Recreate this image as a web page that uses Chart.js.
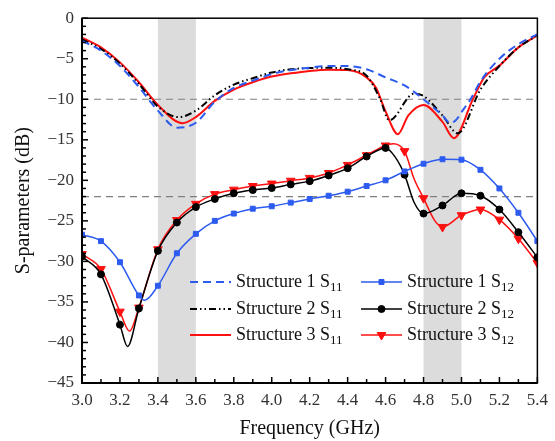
<!DOCTYPE html>
<html>
<head>
<meta charset="utf-8">
<script src="https://cdn.jsdelivr.net/npm/chart.js@4.4.1/dist/chart.umd.min.js"></script>
<style>
  html, body { margin: 0; padding: 0; background: #fff; }
</style>
</head>
<body>
<canvas id="chart" width="555" height="441"></canvas>
<script>
// S11 curves
const freqS11_1 = [3.0, 3.1, 3.2, 3.3, 3.4, 3.5, 3.6, 3.7, 3.8, 3.9, 4.0, 4.1, 4.2, 4.3, 4.4, 4.5, 4.6, 4.7, 4.8, 4.9, 4.94, 4.97, 5.0, 5.05, 5.1, 5.2, 5.3, 5.4];
const s11_1 = [-2.8, -4.0, -5.9, -8.5, -11.4, -13.5, -12.9, -10.3, -8.6, -7.7, -6.9, -6.4, -6.1, -5.9, -5.9, -6.3, -7.3, -8.3, -10.0, -12.0, -12.9, -12.6, -11.6, -9.9, -7.8, -5.0, -3.2, -2.0];

const freqS11_2 = [3.0, 3.1, 3.2, 3.3, 3.4, 3.51, 3.6, 3.7, 3.8, 3.9, 4.0, 4.1, 4.2, 4.3, 4.4, 4.5, 4.57, 4.62, 4.75, 4.8, 4.9, 4.98, 5.1, 5.2, 5.3, 5.4];
const s11_2 = [-2.6, -3.8, -5.6, -8.1, -10.9, -12.2, -11.4, -9.5, -8.2, -7.4, -6.7, -6.3, -6.15, -6.1, -6.3, -7.1, -9.9, -12.6, -9.3, -9.6, -12.0, -14.2, -8.8, -5.9, -3.6, -2.1];

const freqS11_3 = [3.0, 3.1, 3.2, 3.3, 3.4, 3.53, 3.6, 3.7, 3.8, 3.9, 4.0, 4.1, 4.2, 4.3, 4.4, 4.5, 4.55, 4.6, 4.665, 4.72, 4.8, 4.9, 4.96, 5.06, 5.12, 5.2, 5.3, 5.4];
const s11_3 = [-2.4, -3.6, -5.45, -7.9, -10.7, -12.95, -12.2, -10.2, -8.8, -7.9, -7.2, -6.8, -6.5, -6.35, -6.4, -7.3, -8.6, -11.5, -14.3, -12.0, -10.7, -12.8, -14.8, -10.0, -7.3, -5.85, -3.6, -2.1];

// S12 curves, markers sit on the 0.1 GHz points
const freqS12_1 = [3.0, 3.1, 3.2, 3.3, 3.33, 3.4, 3.5, 3.6, 3.7, 3.8, 3.9, 4.0, 4.1, 4.2, 4.3, 4.4, 4.5, 4.6, 4.7, 4.8, 4.9, 5.0, 5.1, 5.2, 5.3, 5.4];
const s12_1 = [-26.7, -27.5, -30.1, -34.2, -34.8, -33.0, -29.0, -26.6, -25.0, -24.1, -23.5, -23.2, -22.75, -22.3, -21.9, -21.4, -20.7, -20.0, -18.9, -17.95, -17.4, -17.45, -18.7, -21.0, -24.0, -27.5];

const freqS12_2 = [3.0, 3.1, 3.2, 3.24, 3.3, 3.4, 3.5, 3.6, 3.7, 3.8, 3.9, 4.0, 4.1, 4.2, 4.3, 4.4, 4.5, 4.6, 4.65, 4.7, 4.75, 4.8, 4.9, 5.0, 5.1, 5.2, 5.3, 5.4];
const s12_2 = [-29.4, -31.6, -37.8, -40.5, -35.8, -28.7, -25.2, -23.3, -22.3, -21.6, -21.2, -20.95, -20.5, -20.1, -19.4, -18.5, -17.05, -16.0, -17.1, -19.3, -22.7, -24.1, -23.1, -21.6, -21.9, -23.6, -26.4, -29.5];

const freqS12_3 = [3.0, 3.1, 3.2, 3.25, 3.3, 3.4, 3.5, 3.6, 3.7, 3.8, 3.9, 4.0, 4.1, 4.2, 4.3, 4.4, 4.5, 4.6, 4.64, 4.7, 4.75, 4.8, 4.86, 4.9, 5.0, 5.1, 5.2, 5.3, 5.4];
const s12_3 = [-29.1, -30.95, -36.2, -38.6, -35.7, -28.5, -24.9, -22.9, -21.7, -21.15, -20.7, -20.4, -20.05, -19.7, -19.1, -18.1, -16.9, -15.7, -15.5, -16.4, -19.8, -22.2, -25.0, -25.75, -24.3, -23.6, -24.85, -27.2, -30.2];

// shaded bands (GHz) and reference levels (dB)
const bands = [[3.4, 3.6], [4.8, 5.0]];
const refLevels = [-10, -22];

const BLUE = '#2d5bf0';
const RED = '#ff1010';
const BLACK = '#000000';
const SERIF = "'Liberation Serif', 'Times New Roman', serif";

function pts(xs, ys) {
    return xs.map((x, i) => ({ x: x, y: ys[i] }));
}
function onGrid(c) {
    const v = c.raw.x * 10;
    return Math.abs(v - Math.round(v)) < 1e-6;
}

const datasets = [
    { label: 'Structure 1 S11', sub: '11', data: pts(freqS11_1, s11_1), borderColor: BLUE, borderWidth: 2, borderDash: [8, 5], pointRadius: 0 },
    { label: 'Structure 2 S11', sub: '11', data: pts(freqS11_2, s11_2), borderColor: BLACK, borderWidth: 2, borderDash: [7, 3, 1.5, 3, 1.5, 3], pointRadius: 0 },
    { label: 'Structure 3 S11', sub: '11', data: pts(freqS11_3, s11_3), borderColor: RED, borderWidth: 2, borderDash: [], pointRadius: 0 },
    { label: 'Structure 1 S12', sub: '12', data: pts(freqS12_1, s12_1), borderColor: BLUE, backgroundColor: BLUE, borderWidth: 1.5,
      pointStyle: 'rect', legendRadius: 3.5, pointRadius: c => onGrid(c) ? 3.5 : 0, pointRotation: 0 },
    { label: 'Structure 2 S12', sub: '12', data: pts(freqS12_2, s12_2), borderColor: BLACK, backgroundColor: BLACK, borderWidth: 1.5,
      pointStyle: 'circle', legendRadius: 3.5, pointRadius: c => onGrid(c) ? 3.5 : 0, pointRotation: 0 },
    { label: 'Structure 3 S12', sub: '12', data: pts(freqS12_3, s12_3), borderColor: RED, backgroundColor: RED, borderWidth: 1.5,
      pointStyle: 'triangle', legendRadius: 5, pointRadius: c => onGrid(c) ? 5 : 0, pointRotation: 180 }
];
datasets.forEach(d => {
    d.fill = false;
    d.cubicInterpolationMode = 'monotone';
    d.pointBorderWidth = 1;
    d.pointHoverRadius = 0;
});

// legend text without the subscript part
const legendNames = ['Structure 1 S', 'Structure 2 S', 'Structure 3 S', 'Structure 1 S', 'Structure 2 S', 'Structure 3 S'];

const decorPlugin = {
    id: 'decor',
    beforeDatasetsDraw(chart) {
        const { ctx, chartArea: a, scales: { x, y } } = chart;
        ctx.save();
        ctx.fillStyle = '#dcdcdc';
        bands.forEach(b => {
            const x0 = x.getPixelForValue(b[0]);
            const x1 = x.getPixelForValue(b[1]);
            ctx.fillRect(x0, a.top, x1 - x0, a.bottom - a.top);
        });
        ctx.strokeStyle = '#7f7f7f';
        ctx.lineWidth = 1.2;
        ctx.setLineDash([7, 5]);
        refLevels.forEach(v => {
            const py = y.getPixelForValue(v);
            ctx.beginPath();
            ctx.moveTo(a.left, py);
            ctx.lineTo(a.right, py);
            ctx.stroke();
        });
        ctx.restore();
    },
    afterDraw(chart) {
        const { ctx, chartArea: a, scales: { x, y } } = chart;
        ctx.save();
        // frame
        ctx.strokeStyle = '#000';
        ctx.lineWidth = 1.5;
        ctx.strokeRect(a.left, a.top, a.right - a.left, a.bottom - a.top);
        ctx.lineWidth = 2;
        ctx.beginPath();
        ctx.moveTo(a.left, a.top);
        ctx.lineTo(a.left, a.bottom);
        ctx.lineTo(a.right, a.bottom);
        ctx.stroke();
        // inward ticks
        ctx.lineWidth = 1.5;
        for (let i = 0; i <= 24; i++) {
            const px = x.getPixelForValue(3 + i * 0.1);
            const len = i % 2 === 0 ? 6 : 4;
            ctx.beginPath();
            ctx.moveTo(px, a.bottom);
            ctx.lineTo(px, a.bottom - len);
            ctx.stroke();
        }
        for (let v = 0; v >= -45; v--) {
            const py = y.getPixelForValue(v);
            const len = v % 5 === 0 ? 6 : 4;
            ctx.beginPath();
            ctx.moveTo(a.left, py);
            ctx.lineTo(a.left + len, py);
            ctx.stroke();
        }
        // legend, two columns of three
        const cols = [190, 361];
        const rows = [282, 309, 335];
        chart.data.datasets.forEach((d, i) => {
            const col = cols[Math.floor(i / 3)];
            const row = rows[i % 3];
            ctx.strokeStyle = d.borderColor;
            ctx.lineWidth = d.borderWidth;
            ctx.setLineDash(d.borderDash || []);
            ctx.beginPath();
            ctx.moveTo(col, row);
            ctx.lineTo(col + 41, row);
            ctx.stroke();
            ctx.setLineDash([]);
            if (d.pointStyle) {
                ctx.fillStyle = d.backgroundColor;
                ctx.strokeStyle = d.borderColor;
                ctx.lineWidth = 1;
                Chart.helpers.drawPoint(ctx, {
                    pointStyle: d.pointStyle,
                    rotation: d.pointRotation,
                    radius: d.legendRadius,
                    borderWidth: 1
                }, col + 20.5, row);
            }
            ctx.fillStyle = '#111';
            ctx.textBaseline = 'middle';
            ctx.textAlign = 'left';
            ctx.font = '18px ' + SERIF;
            const name = legendNames[i];
            ctx.fillText(name, col + 46, row);
            const w = ctx.measureText(name).width;
            ctx.font = '13px ' + SERIF;
            ctx.fillText(d.sub, col + 46 + w, row + 6);
        });
        ctx.restore();
    }
};

new Chart(document.getElementById('chart').getContext('2d'), {
    type: 'line',
    data: { datasets: datasets },
    options: {
        responsive: false,
        animation: false,
        layout: { padding: { top: 17, right: 17, left: 0, bottom: 0 } },
        plugins: {
            legend: { display: false },
            tooltip: { enabled: false }
        },
        scales: {
            x: {
                type: 'linear',
                min: 3,
                max: 5.4,
                grid: { display: false, drawTicks: false },
                border: { display: false },
                ticks: {
                    stepSize: 0.2,
                    autoSkip: false,
                    maxRotation: 0,
                    padding: 7,
                    color: '#333',
                    font: { family: SERIF, size: 17 },
                    callback: v => v.toFixed(1)
                },
                title: {
                    display: true,
                    text: 'Frequency (GHz)',
                    color: '#111',
                    font: { family: SERIF, size: 20 },
                    padding: { top: 0, bottom: 0 }
                },
                afterFit: s => { s.height = 58; }
            },
            y: {
                min: -45,
                max: 0,
                grid: { display: false, drawTicks: false },
                border: { display: false },
                ticks: {
                    stepSize: 5,
                    padding: 8,
                    color: '#333',
                    font: { family: SERIF, size: 17 },
                    callback: v => String(v).replace('-', '\u2212')
                },
                title: {
                    display: true,
                    text: 'S-parameters (dB)',
                    color: '#111',
                    font: { family: SERIF, size: 20 },
                    padding: { top: 12, bottom: 4 }
                },
                afterFit: s => { s.width = 82; }
            }
        }
    },
    plugins: [decorPlugin]
});
</script>
</body>
</html>
